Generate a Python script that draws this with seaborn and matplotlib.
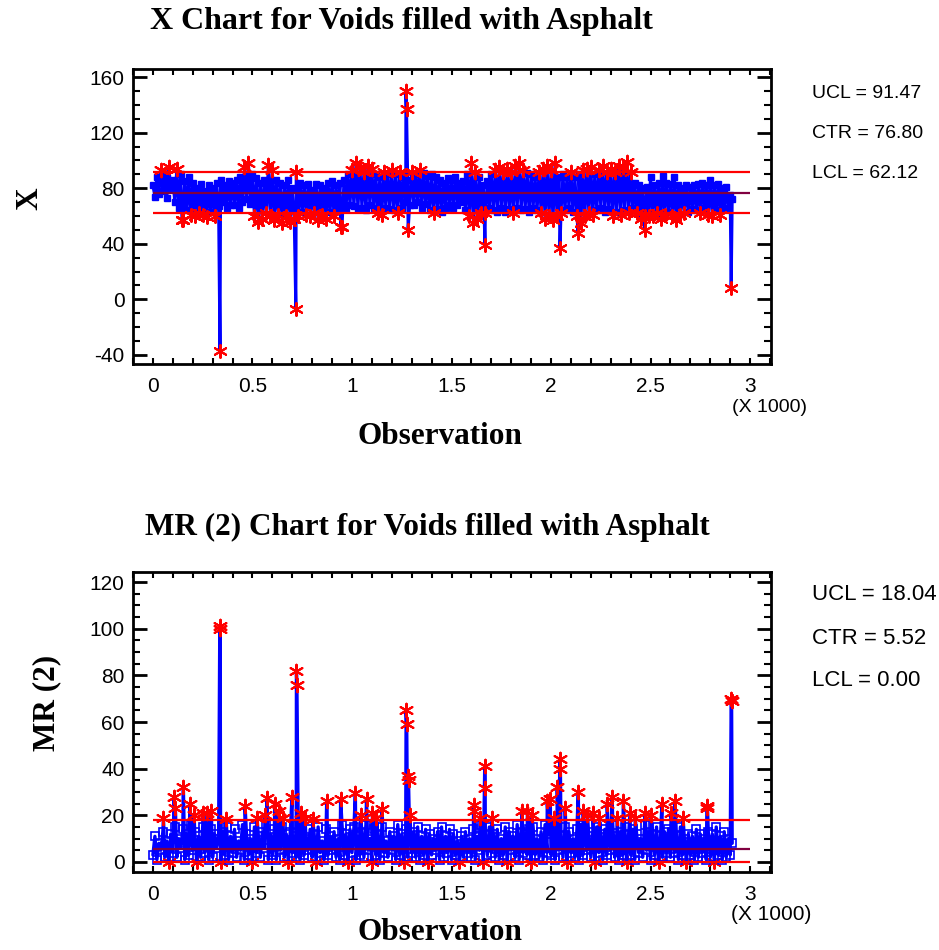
import numpy as np
import pandas as pd
import matplotlib
matplotlib.use("Agg")
import matplotlib.pyplot as plt
import seaborn as sns
from matplotlib.ticker import MultipleLocator, FuncFormatter

# ---------- dados (a cada 10 observações) ----------
obs_base = list(range(0, 2920, 10))

x_base = [
    82, 74, 88, 76, 93, 78, 90, 73, 95, 80,
    86, 70, 94, 66, 90, 57, 85, 64, 88, 61,
    84, 60, 80, 62, 83, 61, 78, 59, 82, 63,
    80, 60, 84, 67, 86, 70, 82, 66, 85, 68,
    84, 68, 86, 66, 88, 70, 95, 72, 98, 69,
    90, 60, 87, 56, 84, 58, 86, 62, 97, 60,
    93, 57, 86, 61, 84, 55, 82, 60, 86, 56,
    80, 58, 92, 60, 84, 63, 82, 61, 83, 60,
    79, 62, 83, 57, 82, 61, 80, 58, 84, 63,
    85, 60, 82, 64, 84, 52, 86, 65, 90, 68,
    93, 67, 98, 65, 95, 66, 92, 64, 96, 68,
    94, 66, 90, 62, 88, 61, 92, 66, 90, 65,
    93, 64, 90, 62, 92, 66, 88, 70, 86, 68,
    92, 68, 90, 70, 93, 66, 91, 69, 89, 64,
    90, 62, 88, 65, 86, 63, 84, 66, 87, 68,
    86, 66, 88, 68, 84, 70, 85, 64, 90, 60,
    98, 55, 92, 58, 88, 62, 82, 62, 85, 66,
    90, 64, 93, 63, 95, 66, 92, 63, 94, 65,
    92, 62, 96, 66, 98, 64, 93, 65, 91, 63,
    90, 66, 88, 64, 92, 62, 94, 58, 96, 60,
    93, 57, 98, 60, 88, 62, 90, 64, 88, 66,
    92, 63, 88, 60, 90, 55, 93, 60, 94, 62,
    95, 61, 90, 64, 93, 66, 96, 63, 92, 65,
    94, 60, 92, 63, 96, 61, 95, 64, 99, 62,
    92, 66, 84, 62, 82, 58, 80, 60, 81, 60,
    88, 60, 82, 62, 84, 58, 89, 61, 84, 63,
    83, 60, 88, 57, 82, 61, 80, 62, 82, 63,
    81, 65, 82, 64, 83, 62, 84, 66, 82, 61,
    86, 60, 82, 64, 83, 61, 80, 65, 81, 66,
    75, 72,
]
# pontos isolados (picos)
x_spike_obs = [146, 337, 718, 943, 1271, 1274, 1282, 1668, 2045, 2136, 2472, 2905]
x_spike_val = [57, -37, -7, 52, 150, 137, 50, 39, 37, 48, 50, 8]

mr_base = [
    3, 11, 1, 8, 5, 13, 2, 9, 0, 12,
    4, 15, 2, 10, 6, 14, 1, 12, 3, 16,
    5, 13, 0, 11, 2, 15, 4, 9, 1, 14,
    2, 12, 6, 10, 0, 13, 3, 15, 1, 11,
    4, 14, 2, 9, 5, 16, 1, 12, 3, 10,
    0, 15, 4, 11, 2, 13, 6, 16, 1, 12,
    3, 14, 1, 10, 5, 15, 2, 12, 0, 13,
    4, 11, 2, 16, 1, 13, 3, 10, 5, 14,
    2, 12, 0, 15, 4, 9, 1, 14, 3, 11,
    5, 13, 2, 10, 1, 16, 3, 12, 0, 14,
    4, 15, 1, 11, 3, 13, 2, 16, 5, 10,
    0, 14, 3, 12, 1, 15, 4, 9, 2, 13,
    5, 11, 1, 16, 3, 12, 0, 14, 2, 10,
    4, 13, 2, 15, 1, 11, 3, 14, 0, 12,
    3, 10, 5, 13, 1, 15, 2, 11, 4, 14,
    1, 12, 3, 9, 0, 11, 2, 13, 4, 10,
    2, 14, 1, 11, 5, 16, 0, 12, 3, 15,
    4, 12, 2, 14, 1, 10, 3, 15, 0, 13,
    5, 11, 2, 16, 1, 13, 4, 12, 3, 14,
    0, 15, 3, 10, 2, 13, 1, 16, 4, 12,
    3, 14, 1, 12, 5, 11, 2, 15, 0, 13,
    4, 10, 2, 14, 1, 16, 3, 12, 5, 11,
    2, 13, 0, 15, 4, 12, 1, 14, 3, 10,
    5, 16, 2, 11, 1, 13, 3, 15, 0, 12,
    3, 14, 1, 12, 4, 10, 2, 16, 5, 13,
    1, 12, 3, 15, 0, 11, 2, 13, 4, 14,
    2, 13, 4, 11, 1, 15, 3, 10, 0, 12,
    3, 11, 1, 14, 2, 12, 4, 10, 1, 13,
    2, 12, 0, 15, 3, 11, 1, 13, 2, 10,
    3, 8,
]
mr_spike_obs = [53, 107, 113, 153, 187, 207, 253, 273, 293, 336, 338, 367, 463, 523, 563,
                573, 613, 633, 653, 699, 721, 723, 743, 763, 803, 873, 943, 1017, 1043,
                1073, 1103, 1123, 1151, 1272, 1275, 1281, 1284, 1291, 1611, 1613, 1643,
                1667, 1669, 1703, 1855, 1881, 1903, 1981, 1996, 2013, 2031, 2044, 2047,
                2071, 2137, 2161, 2183, 2211, 2243, 2282, 2307, 2333, 2363, 2397, 2423,
                2473, 2503, 2557, 2603, 2623, 2663, 2783, 2786, 2905, 2907]
mr_spike_val = [19, 28, 23, 32, 25, 20, 21, 21, 22, 101, 100, 18.5, 24, 19, 20,
                27.5, 25, 22, 19, 28, 82, 76, 21, 19, 18.5, 26, 27, 29.5, 20,
                27, 21, 19, 22.5, 65, 59, 37, 35, 20, 24.5, 22, 19,
                41, 31.5, 19, 22, 22, 20, 26, 27, 19, 32, 44, 40,
                23, 30, 22, 20, 21, 19, 25, 28, 19, 26, 21, 19,
                21, 20, 25, 21, 26, 19, 24, 23, 70, 69]

# limites de controle
x_ucl, x_ctr, x_lcl = 91.47, 76.80, 62.12
mr_ucl, mr_ctr, mr_lcl = 18.04, 5.52, 0.00

df_x = pd.DataFrame({'Obs': obs_base + x_spike_obs, 'Valor': x_base + x_spike_val})
df_x = df_x.sort_values('Obs', kind='stable').reset_index(drop=True)
df_mr = pd.DataFrame({'Obs': obs_base + mr_spike_obs, 'Valor': mr_base + mr_spike_val})
df_mr = df_mr.sort_values('Obs', kind='stable').reset_index(drop=True)

# ---------- figura ----------
sns.set_style('ticks')
plt.rcParams['font.family'] = ['Liberation Sans', 'DejaVu Sans']
plt.rcParams['axes.unicode_minus'] = False
plt.rcParams['text.color'] = 'black'
plt.rcParams['axes.labelcolor'] = 'black'
plt.rcParams['xtick.color'] = 'black'
plt.rcParams['ytick.color'] = 'black'
plt.rcParams['xtick.labelcolor'] = 'black'
plt.rcParams['ytick.labelcolor'] = 'black'

W, H = 939, 950
fig = plt.figure(figsize=(W / 100, H / 100), dpi=100)

def px_box(l, t, r, b):
    return [l / W, 1 - b / H, (r - l) / W, (b - t) / H]

ax1 = fig.add_axes(px_box(133, 69, 771, 364))
ax2 = fig.add_axes(px_box(133, 572, 771, 872))

azul = '#0000FF'
verm = '#FF0000'
centro = '#800040'
asterisco = (6, 2, 0)

def estilo_eixo(ax, ylim, ymaj, ymin):
    ax.set_xlim(-100, 3105)
    ax.set_ylim(*ylim)
    ax.xaxis.set_major_locator(MultipleLocator(500))
    ax.xaxis.set_minor_locator(MultipleLocator(100))
    ax.yaxis.set_major_locator(MultipleLocator(ymaj))
    ax.yaxis.set_minor_locator(MultipleLocator(ymin))
    ax.xaxis.set_major_formatter(FuncFormatter(lambda v, p: f'{v / 1000:g}'))
    ax.tick_params(axis='both', which='both', direction='in', top=True, right=True,
                   color='black', labelcolor='black', labelsize=15)
    ax.tick_params(axis='x', which='both', length=4, width=1.5, pad=9)
    ax.tick_params(axis='y', which='major', length=10, width=2, pad=6)
    ax.tick_params(axis='y', which='minor', length=5, width=1.5)
    for s in ax.spines.values():
        s.set_linewidth(2)
        s.set_color('black')
    ax.set_xlabel('')
    ax.set_ylabel('')

def carta(ax, df, ucl, ctr, lcl, lw, marcador):
    sns.lineplot(data=df, x='Obs', y='Valor', ax=ax, estimator=None, sort=False,
                 color=azul, linewidth=lw, zorder=3)
    dentro = df[(df['Valor'] <= ucl) & (df['Valor'] > lcl)]
    ax.plot(dentro['Obs'], dentro['Valor'], linestyle='none', zorder=3, **marcador)
    fora_alto = df[df['Valor'] > ucl]
    fora_baixo = df[df['Valor'] <= lcl]
    baixo_z = 2 if lcl == 0 else 4
    sns.scatterplot(data=fora_baixo, x='Obs', y='Valor', ax=ax, marker=asterisco, s=85,
                    color=verm, edgecolor=verm, linewidth=1.5, zorder=baixo_z)
    sns.scatterplot(data=fora_alto, x='Obs', y='Valor', ax=ax, marker=asterisco, s=95,
                    color=verm, edgecolor=verm, linewidth=1.5, zorder=4)
    ax.hlines([ucl, lcl], 0, 3000, color=verm, linewidth=1.6, zorder=5)
    ax.hlines(ctr, 0, 3000, color=centro, linewidth=1.6, zorder=5)

# X chart
carta(ax1, df_x, x_ucl, x_ctr, x_lcl, 2.2,
      dict(marker='s', markersize=4.5, markerfacecolor=azul, markeredgecolor=azul))
estilo_eixo(ax1, (-46.5, 165.8), 40, 10)

# MR chart
carta(ax2, df_mr, mr_ucl, mr_ctr, mr_lcl, 2.4,
      dict(marker='s', markersize=5.5, markerfacecolor='none', markeredgecolor=azul,
           markeredgewidth=1.2))
estilo_eixo(ax2, (-4.3, 124.3), 20, 5)

# ---------- textos ----------
serif = dict(family=['Liberation Serif', 'DejaVu Serif'], fontweight='bold', color='black')

fig.text(401 / W, 1 - 22 / H, 'X Chart for Voids filled with Asphalt',
         ha='center', va='center', fontsize=23, **serif)
fig.text(427 / W, 1 - 527 / H, 'MR (2) Chart for Voids filled with Asphalt',
         ha='center', va='center', fontsize=22.5, **serif)

ax1.text(0.481, -0.247, 'Observation', transform=ax1.transAxes,
         ha='center', va='center', fontsize=22.5, **serif)
ax2.text(0.481, -0.203, 'Observation', transform=ax2.transAxes,
         ha='center', va='center', fontsize=22.5, **serif)
ax1.text(-0.161, 0.559, 'X', transform=ax1.transAxes, rotation=90,
         ha='center', va='center', fontsize=22.5, **serif)
ax2.text(-0.135, 0.563, 'MR (2)', transform=ax2.transAxes, rotation=90,
         ha='center', va='center', fontsize=22.5, **serif)

ax1.text(0.998, -0.149, '(X 1000)', transform=ax1.transAxes,
         ha='center', va='center', fontsize=14, color='black')
ax2.text(1.0, -0.14, '(X 1000)', transform=ax2.transAxes,
         ha='center', va='center', fontsize=15, color='black')

for txt, yy in [(f'UCL = {x_ucl:.2f}', 93), (f'CTR = {x_ctr:.2f}', 134), (f'LCL = {x_lcl:.2f}', 174)]:
    fig.text(812 / W, 1 - yy / H, txt, ha='left', va='center', fontsize=14, color='black')
for txt, yy in [(f'UCL = {mr_ucl:.2f}', 595), (f'CTR = {mr_ctr:.2f}', 638), (f'LCL = {mr_lcl:.2f}', 680)]:
    fig.text(812 / W, 1 - yy / H, txt, ha='left', va='center', fontsize=16, color='black')

fig.savefig('out.png', dpi=100)
plt.close(fig)
